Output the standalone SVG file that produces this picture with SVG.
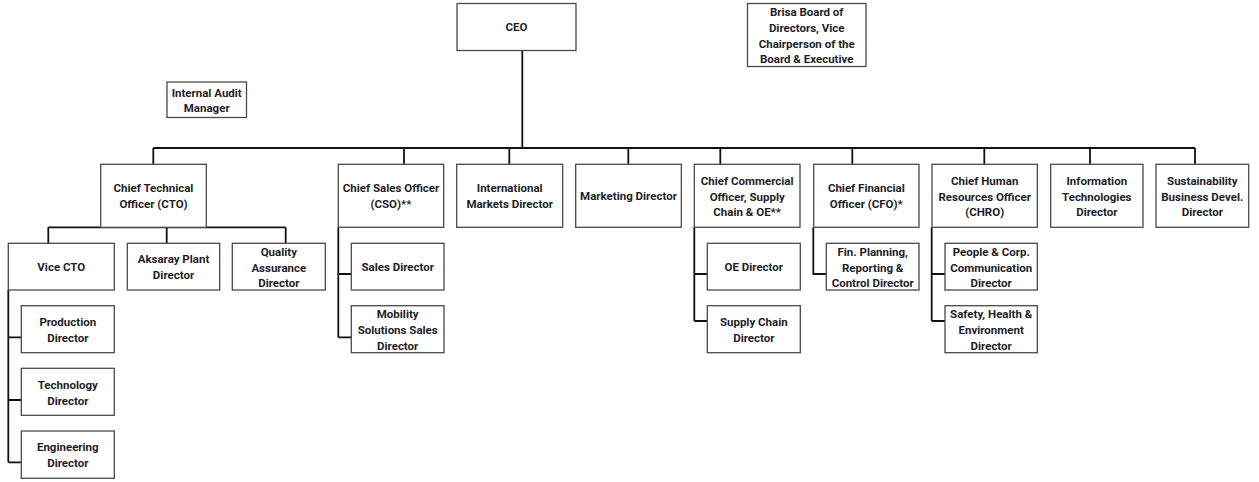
<svg xmlns="http://www.w3.org/2000/svg" width="1259" height="482" viewBox="0 0 1259 482">
<style>
.box{fill:#fff;stroke:#4a4a4a;stroke-width:1.3}
.ln{fill:none;stroke:#111;stroke-width:1.8}
text{font-family:Roboto,"Liberation Sans",sans-serif;font-weight:bold;font-size:11.5px;fill:#1e1e2a;text-anchor:middle}
</style>
<rect width="1259" height="482" fill="#fff"/>
<g id="connectors" class="ln">
<path d="M522.3 50.7V148M153.3 148H1195M153.3 148V164.3M404 148V164.3M509.3 148V164.3M628.3 148V164.3M720.3 148V164.3M852.3 148V164.3M984.3 148V164.3M1090 148V164.3M1195 148V164.3"/>
<path d="M48.3 227.3H285.7M48.3 227.3V243.3M166.7 227.3V243.3M285.7 227.3V243.3"/>
<path d="M8.3 290V462.3M8.3 337.3H21.3M8.3 400H21.3M8.3 462.3H21.3"/>
<path d="M338.3 227.3V337.3M338.3 274H351.3M338.3 337.3H351.3"/>
<path d="M694.3 227.3V321M694.3 274H707.3M694.3 321H707.3"/>
<path d="M813.3 227.3V274H826.3"/>
<path d="M931.7 227.3V321M931.7 274H945M931.7 321H945"/>
</g>
<g id="ceo"><rect class="box" x="457" y="3.5" width="119" height="47"/><text x="516.5" y="31">CEO</text></g>
<g id="brisa"><rect class="box" x="747.5" y="3.5" width="118.5" height="63"/><text x="806.7" y="16.3">Brisa Board of</text><text x="806.7" y="32">Directors, Vice</text><text x="806.7" y="47.7">Chairperson of the</text><text x="806.7" y="63.3">Board &amp; Executive</text></g>
<g id="audit"><rect class="box" x="167" y="82" width="79.5" height="35.5"/><text x="206.7" y="96.7">Internal Audit</text><text x="206.7" y="112.3">Manager</text></g>
<g id="cto"><rect class="box" x="100.7" y="164.3" width="105.6" height="63"/><text x="153.5" y="192.3">Chief Technical</text><text x="153.5" y="208">Officer (CTO)</text></g>
<g id="cso"><rect class="box" x="338.3" y="164.3" width="105.4" height="63"/><text x="391" y="192.3">Chief Sales Officer</text><text x="391" y="208">(CSO)**</text></g>
<g id="intl"><rect class="box" x="456.7" y="164.3" width="106" height="63"/><text x="509.7" y="192.3">International</text><text x="509.7" y="208">Markets Director</text></g>
<g id="marketing"><rect class="box" x="575.7" y="164.3" width="105.6" height="63"/><text x="628.5" y="200">Marketing Director</text></g>
<g id="cco"><rect class="box" x="694.3" y="164.3" width="105.7" height="63"/><text x="747.2" y="185">Chief Commercial</text><text x="747.2" y="200.7">Officer, Supply</text><text x="747.2" y="216.3">Chain &amp; OE**</text></g>
<g id="cfo"><rect class="box" x="813.7" y="164.3" width="105.3" height="63"/><text x="866.3" y="192.3">Chief Financial</text><text x="866.3" y="208">Officer (CFO)*</text></g>
<g id="chro"><rect class="box" x="932" y="164.3" width="105.3" height="63"/><text x="984.7" y="185">Chief Human</text><text x="984.7" y="200.7">Resources Officer</text><text x="984.7" y="216.3">(CHRO)</text></g>
<g id="it"><rect class="box" x="1050.7" y="164.3" width="92.3" height="63"/><text x="1096.8" y="185">Information</text><text x="1096.8" y="200.7">Technologies</text><text x="1096.8" y="216.3">Director</text></g>
<g id="sustain"><rect class="box" x="1156" y="164.3" width="92.7" height="63"/><text x="1202.3" y="185">Sustainability</text><text x="1202.3" y="200.7">Business Devel.</text><text x="1202.3" y="216.3">Director</text></g>
<g id="vicecto"><rect class="box" x="8.3" y="243.3" width="106" height="46.7"/><text x="61.3" y="270.7">Vice CTO</text></g>
<g id="aksaray"><rect class="box" x="127.3" y="243.3" width="92.4" height="46.7"/><text x="173.5" y="263.3">Aksaray Plant</text><text x="173.5" y="279">Director</text></g>
<g id="quality"><rect class="box" x="232.3" y="243.3" width="93" height="46.7"/><text x="278.8" y="256">Quality</text><text x="278.8" y="271.7">Assurance</text><text x="278.8" y="287.3">Director</text></g>
<g id="sales"><rect class="box" x="351.3" y="243.3" width="92.7" height="46.7"/><text x="397.7" y="270.7">Sales Director</text></g>
<g id="mobility"><rect class="box" x="351.3" y="305.7" width="92.7" height="47"/><text x="397.7" y="318.3">Mobility</text><text x="397.7" y="334">Solutions Sales</text><text x="397.7" y="349.7">Director</text></g>
<g id="production"><rect class="box" x="21.3" y="305.7" width="93" height="47"/><text x="67.8" y="326">Production</text><text x="67.8" y="341.7">Director</text></g>
<g id="technology"><rect class="box" x="21.3" y="368.3" width="93" height="47"/><text x="67.8" y="389">Technology</text><text x="67.8" y="404.7">Director</text></g>
<g id="engineering"><rect class="box" x="21.3" y="431" width="93" height="47.3"/><text x="67.8" y="451.3">Engineering</text><text x="67.8" y="467">Director</text></g>
<g id="oe"><rect class="box" x="707.3" y="243.3" width="93" height="46.7"/><text x="753.8" y="270.7">OE Director</text></g>
<g id="supply"><rect class="box" x="707.3" y="305.7" width="93" height="47"/><text x="753.8" y="326">Supply Chain</text><text x="753.8" y="341.7">Director</text></g>
<g id="finplan"><rect class="box" x="826.3" y="243.3" width="92.7" height="46.7"/><text x="872.7" y="256">Fin. Planning,</text><text x="872.7" y="271.7">Reporting &amp;</text><text x="872.7" y="287.3">Control Director</text></g>
<g id="people"><rect class="box" x="945" y="243.3" width="92.3" height="46.7"/><text x="991.2" y="256">People &amp; Corp.</text><text x="991.2" y="271.7">Communication</text><text x="991.2" y="287.3">Director</text></g>
<g id="safety"><rect class="box" x="945" y="305.7" width="92.3" height="47"/><text x="991.2" y="318.3">Safety, Health &amp;</text><text x="991.2" y="334">Environment</text><text x="991.2" y="349.7">Director</text></g>
</svg>
